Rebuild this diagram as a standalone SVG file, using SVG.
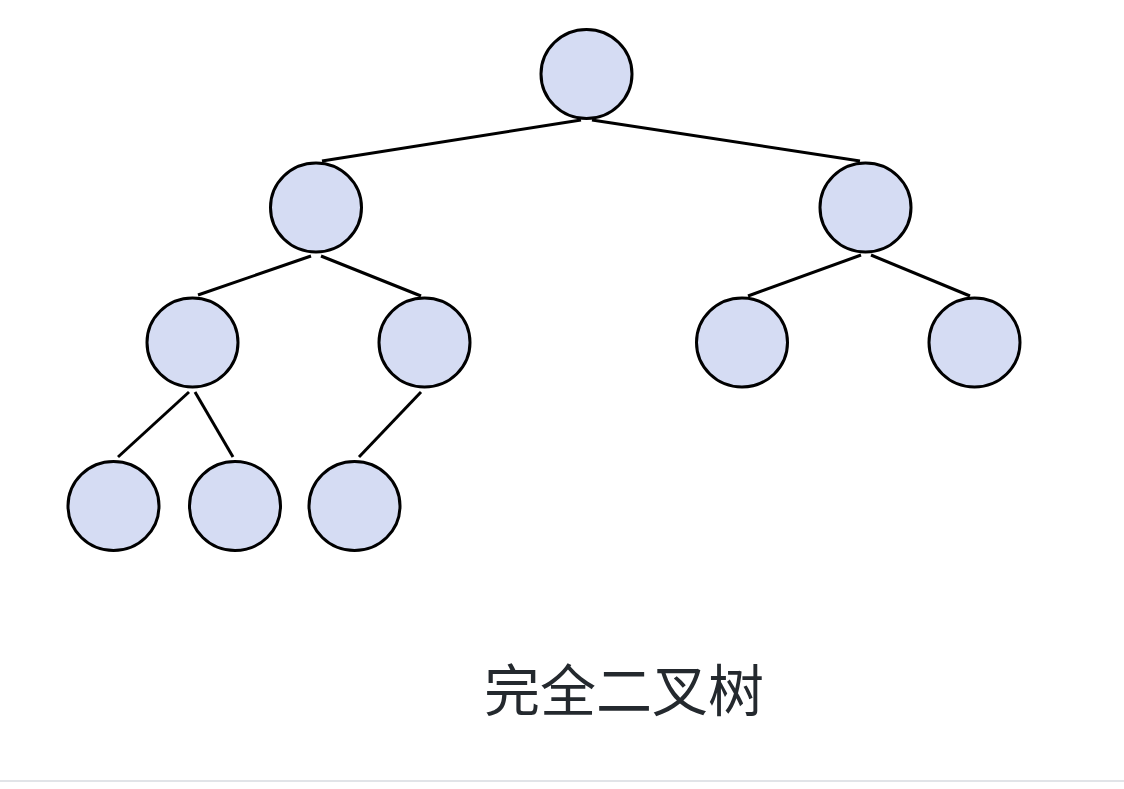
<svg xmlns="http://www.w3.org/2000/svg" width="1124" height="789" viewBox="0 0 1124 789">
<style>
.n{fill:#d5dcf3;stroke:#000;stroke-width:3}
.e{stroke:#000;stroke-width:3;fill:none}
.t{font-family:"Noto Sans CJK SC","Noto Sans",sans-serif;font-size:56px;fill:#24292e}
</style>
<rect width="1124" height="789" fill="#fff"/>
<g id="edges">
<line class="e" x1="581" y1="120" x2="322" y2="161"/>
<line class="e" x1="592" y1="120" x2="860" y2="161"/>
<line class="e" x1="311" y1="256" x2="198" y2="295"/>
<line class="e" x1="321" y1="256" x2="421" y2="296"/>
<line class="e" x1="861" y1="255" x2="748" y2="296"/>
<line class="e" x1="871" y1="255" x2="970" y2="296"/>
<line class="e" x1="189" y1="392" x2="118" y2="457"/>
<line class="e" x1="195" y1="392" x2="233" y2="457"/>
<line class="e" x1="421" y1="392" x2="359" y2="457"/>
</g>
<g id="n1"><ellipse class="n" cx="586.5" cy="74" rx="45.5" ry="44.5"/></g>
<g id="n2"><ellipse class="n" cx="316" cy="207.5" rx="45.5" ry="44.5"/></g>
<g id="n3"><ellipse class="n" cx="865.5" cy="207.5" rx="45.5" ry="44.5"/></g>
<g id="n4"><ellipse class="n" cx="192.5" cy="342.5" rx="45.5" ry="44.5"/></g>
<g id="n5"><ellipse class="n" cx="424.5" cy="342.5" rx="45.5" ry="44.5"/></g>
<g id="n6"><ellipse class="n" cx="742" cy="342.5" rx="45.5" ry="44.5"/></g>
<g id="n7"><ellipse class="n" cx="974.5" cy="342.5" rx="45.5" ry="44.5"/></g>
<g id="n8"><ellipse class="n" cx="113.5" cy="506" rx="45.5" ry="44.5"/></g>
<g id="n9"><ellipse class="n" cx="235" cy="506" rx="45.5" ry="44.5"/></g>
<g id="n10"><ellipse class="n" cx="354.5" cy="506" rx="45.5" ry="44.5"/></g>
<text class="t" x="624" y="711" text-anchor="middle">完全二叉树</text>
<rect x="0" y="780" width="1124" height="2" fill="#e1e4e8"/>
</svg>
